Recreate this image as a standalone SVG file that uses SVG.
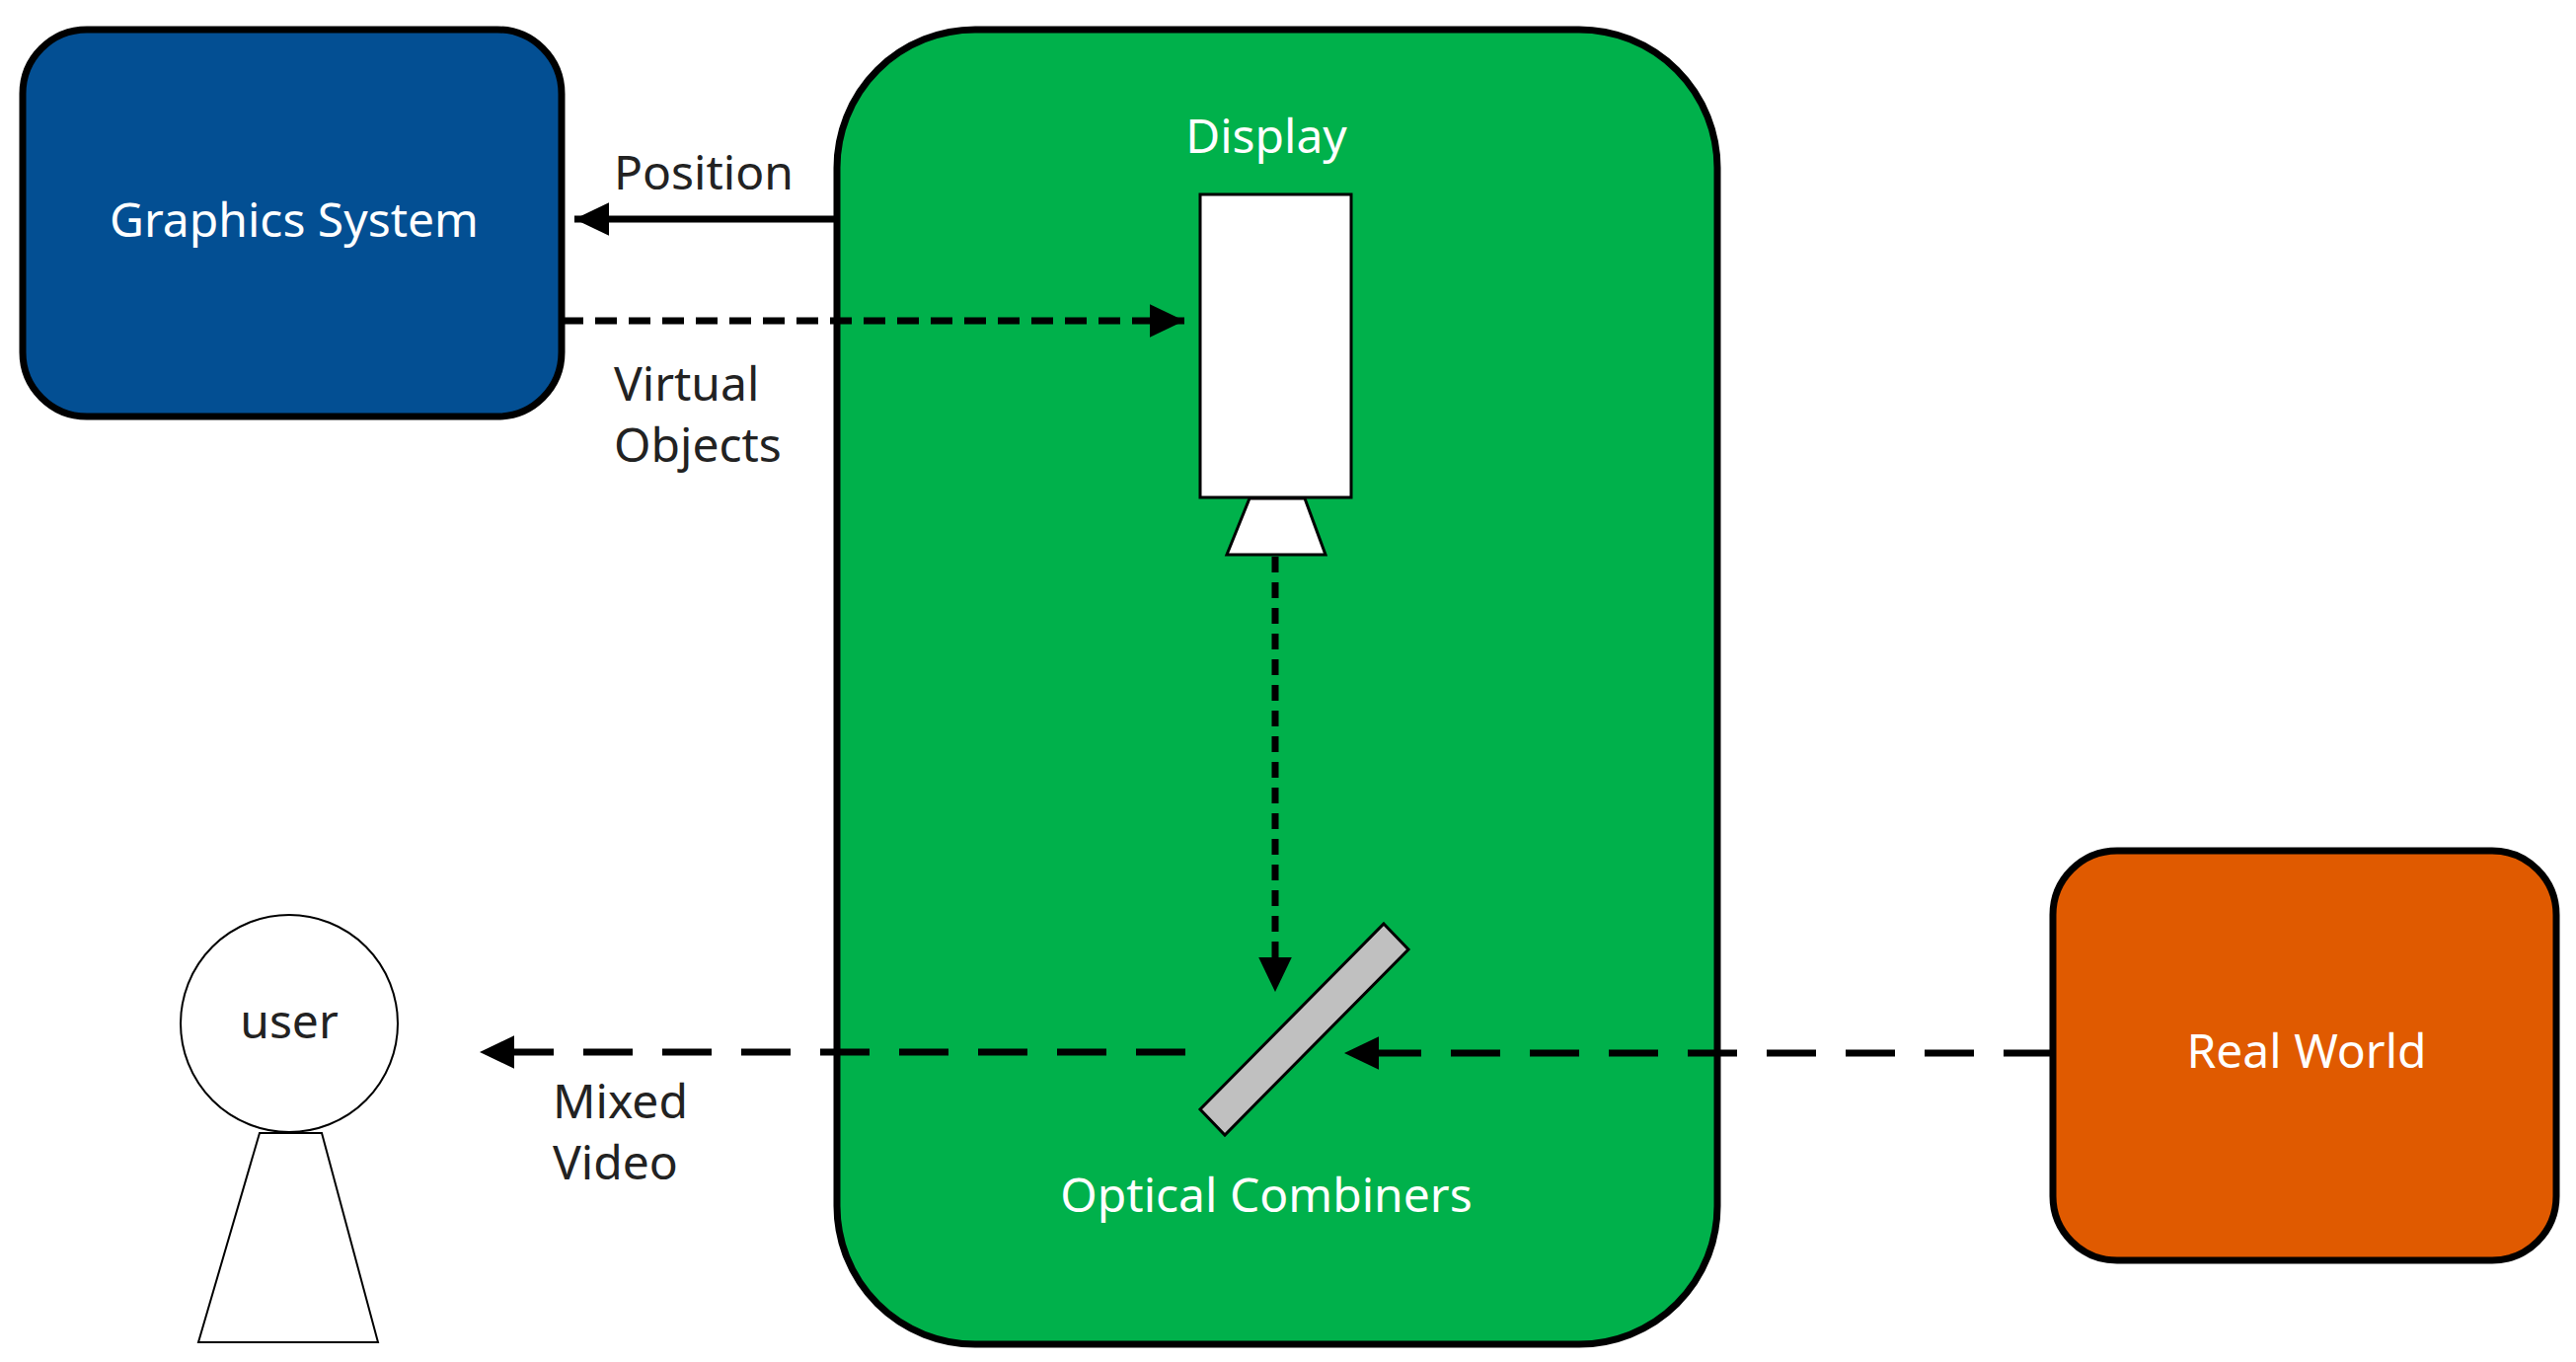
<svg xmlns="http://www.w3.org/2000/svg" width="2610" height="1380" viewBox="0 0 2610 1380">
<style>
text{font-family:"Noto Sans","Open Sans",sans-serif;font-size:48px}
.w{fill:#fff}.k{fill:#222}.m{text-anchor:middle}
.box{stroke:#000;stroke-width:7}
.ln{stroke:#000;stroke-width:7;fill:none}
</style>
<defs>
<marker id="ah" markerWidth="6" markerHeight="6" refX="5" refY="3" orient="auto" markerUnits="strokeWidth"><path d="M0,0.6 L5,3 L0,5.4 Z" fill="#000"/></marker>
</defs>
<g id="hmd"><rect class="box" x="848" y="30" width="892" height="1332" rx="140" fill="#00b14b"/>
<text class="w m" x="1283" y="155">Display</text>
<text class="w m" x="1283" y="1228">Optical Combiners</text></g>
<g id="graphics"><rect class="box" x="23" y="30" width="546" height="392" rx="65" fill="#034f93"/>
<text class="w m" x="298" y="240">Graphics System</text></g>
<g id="realworld"><rect class="box" x="2080" y="862" width="510" height="415" rx="65" fill="#e05a00"/>
<text class="w m" x="2337" y="1082">Real World</text></g>
<g id="display"><rect x="1216" y="197" width="153" height="307" fill="#fff" stroke="#000" stroke-width="3"/>
<polygon points="1266,505 1322,505 1343,562 1243,562" fill="#fff" stroke="#000" stroke-width="3"/></g>
<g id="combiner"><polygon points="1402,936 1427,962 1241,1150 1216,1124" fill="#c0c0c0" stroke="#000" stroke-width="3"/></g>
<g id="user"><circle cx="293" cy="1037" r="110" fill="#fff" stroke="#000" stroke-width="2"/>
<polygon points="263,1148 326,1148 383,1360 201,1360" fill="#fff" stroke="#000" stroke-width="2"/>
<text class="k m" x="293" y="1052" font-size="44">user</text></g>
<g id="connectors">
<line class="ln" x1="848" y1="222" x2="582" y2="222" marker-end="url(#ah)"/>
<line class="ln" x1="569" y1="325" x2="1200" y2="325" stroke-dasharray="22,12" marker-end="url(#ah)"/>
<line class="ln" x1="1292" y1="564" x2="1292" y2="1005" stroke-width="5" stroke-dasharray="16,10" marker-end="url(#ah)"/>
<line class="ln" x1="1201" y1="1066" x2="486" y2="1066" stroke-dasharray="50,30" marker-end="url(#ah)"/>
<line class="ln" x1="2080" y1="1067" x2="1362" y2="1067" stroke-dasharray="50,30" marker-end="url(#ah)"/>
</g>
<g id="labels">
<text class="k" x="622" y="192">Position</text>
<text class="k" x="622" y="406">Virtual</text>
<text class="k" x="622" y="468">Objects</text>
<text class="k" x="560" y="1133">Mixed</text>
<text class="k" x="560" y="1195">Video</text>
</g>
</svg>
